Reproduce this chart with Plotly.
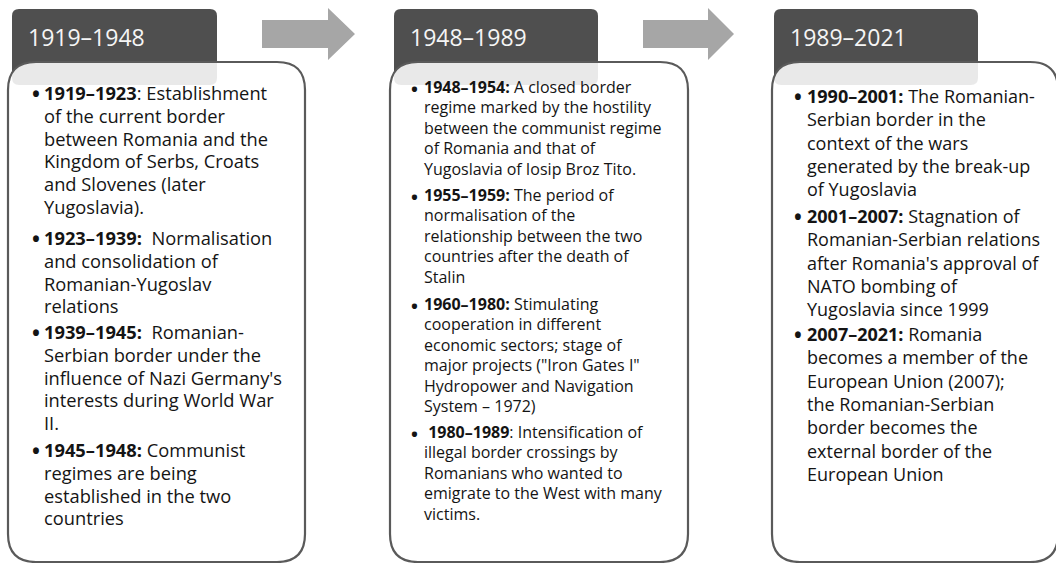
import plotly.graph_objects as go

W, H = 1056, 563

# ---- data ----
periods = ["1919–1948", "1948–1989", "1989–2021"]

box1_items = [
    ["<b>1919–1923</b>: Establishment", "of the current border", "between Romania and the",
     "Kingdom of Serbs, Croats", "and Slovenes (later", "Yugoslavia)."],
    ["<b>1923–1939:</b>\u00a0 Normalisation", "and consolidation of", "Romanian-Yugoslav", "relations"],
    ["<b>1939–1945:</b>\u00a0 Romanian-", "Serbian border under the", "influence of Nazi Germany's",
     "interests during World War", "II."],
    ["<b>1945–1948:</b> Communist", "regimes are being", "established in the two", "countries"],
]
box2_items = [
    ["<b>1948–1954:</b> A closed border", "regime marked by the hostility",
     "between the communist regime", "of Romania and that of", "Yugoslavia of Iosip Broz Tito."],
    ["<b>1955–1959:</b> The period of", "normalisation of the", "relationship between the two",
     "countries after the death of", "Stalin"],
    ["<b>1960–1980:</b> Stimulating", "cooperation in different", "economic sectors; stage of",
     "major projects (\"Iron Gates I\"", "Hydropower and Navigation", "System – 1972)"],
    ["\u00a0<b>1980–1989</b>: Intensification of", "illegal border crossings by",
     "Romanians who wanted to", "emigrate to the West with many", "victims."],
]
box3_items = [
    ["<b>1990–2001:</b> The Romanian-", "Serbian border in the", "context of the wars",
     "generated by the break-up", "of Yugoslavia"],
    ["<b>2001–2007:</b> Stagnation of", "Romanian-Serbian relations", "after Romania's approval of",
     "NATO bombing of", "Yugoslavia since 1999"],
    ["<b>2007–2021:</b> Romania", "becomes a member of the", "European Union (2007);",
     "the Romanian-Serbian", "border becomes the", "external border of the", "European Union"],
]
items = [box1_items, box2_items, box3_items]

# ---- layout geometry (pixels) ----
header_x = [(12, 217), (394, 598), (774, 978)]
header_y = (9, 85)
content_x = [(8, 305), (390, 688), (772, 1058)]
content_y = (62, 562)
text_x = [42, 422, 805]
bullet_x = [36, 414, 798]
item_y = [[95, 240, 334, 452], [89, 197, 306, 434], [98, 218, 336]]
line_step = [22.8, 20.4, 23.3]     # line pitch per box
glyph_size = [18.3, 16, 18.0]      # visible glyph size per box
arrows = [(262, 328, 355), (643, 708, 734)]

FONT = "Open Sans"
HEADER_FILL = "#4f4f4f"
BORDER = "#5a5a5a"
ARROW = "#a6a6a6"
TEXT = "#141414"


def rounded_rect(x0, y0, x1, y1, r):
    return (f"M {x0+r},{y0} L {x1-r},{y0} Q {x1},{y0} {x1},{y0+r} "
            f"L {x1},{y1-r} Q {x1},{y1} {x1-r},{y1} L {x0+r},{y1} "
            f"Q {x0},{y1} {x0},{y1-r} L {x0},{y0+r} Q {x0},{y0} {x0+r},{y0} Z")


fig = go.Figure()
shapes = []
annotations = []

for i, period in enumerate(periods):
    hx0, hx1 = header_x[i]
    shapes.append(dict(type="path", xref="x", yref="y",
                       path=rounded_rect(hx0, header_y[0], hx1, header_y[1], 7),
                       fillcolor=HEADER_FILL, line=dict(width=0), layer="below"))
    cx0, cx1 = content_x[i]
    shapes.append(dict(type="path", xref="x", yref="y",
                       path=rounded_rect(cx0, content_y[0], cx1, content_y[1], 28),
                       fillcolor="rgba(255,255,255,0.88)",
                       line=dict(color=BORDER, width=2.2), layer="below"))
    annotations.append(dict(x=hx0 + 14, y=37, xref="x", yref="y",
                            text=period, showarrow=False, xanchor="left", yanchor="middle",
                            font=dict(family=FONT, size=23, color="#f5f5f5")))
    pitch_font = line_step[i] / 1.3
    for j, lines in enumerate(items[i]):
        yc = item_y[i][j]
        annotations.append(dict(x=bullet_x[i], y=yc - 1, xref="x", yref="y", text="<b>•</b>",
                                showarrow=False, xanchor="center", yanchor="middle",
                                font=dict(family=FONT, size=glyph_size[i] * 1.15, color=TEXT)))
        body = "<br>".join(f"<span style='font-size:{glyph_size[i]}px'>{ln}</span>"
                           for ln in lines)
        annotations.append(dict(x=text_x[i], y=yc - 0.86 * glyph_size[i] - 1,
                                xref="x", yref="y", text=body, showarrow=False,
                                xanchor="left", yanchor="top", align="left",
                                font=dict(family=FONT, size=pitch_font, color=TEXT)))

for (ax0, ahead, atip) in arrows:
    ay_top, ay_bot, ay_mid = 8, 60, 34
    sy0, sy1 = 20, 48
    path = (f"M {ax0},{sy0} L {ahead},{sy0} L {ahead},{ay_top} L {atip},{ay_mid} "
            f"L {ahead},{ay_bot} L {ahead},{sy1} L {ax0},{sy1} Z")
    shapes.append(dict(type="path", xref="x", yref="y", path=path,
                       fillcolor=ARROW, line=dict(width=0), layer="below"))

fig.update_layout(
    width=W, height=H, margin=dict(l=0, r=0, t=0, b=0),
    paper_bgcolor="white", plot_bgcolor="white",
    xaxis=dict(range=[0, W], visible=False, fixedrange=True),
    yaxis=dict(range=[H, 0], visible=False, fixedrange=True),
    shapes=shapes, annotations=annotations, showlegend=False,
)

fig.write_html("out.html", config={"displayModeBar": False},
               post_script="document.body.style.margin='0';")
